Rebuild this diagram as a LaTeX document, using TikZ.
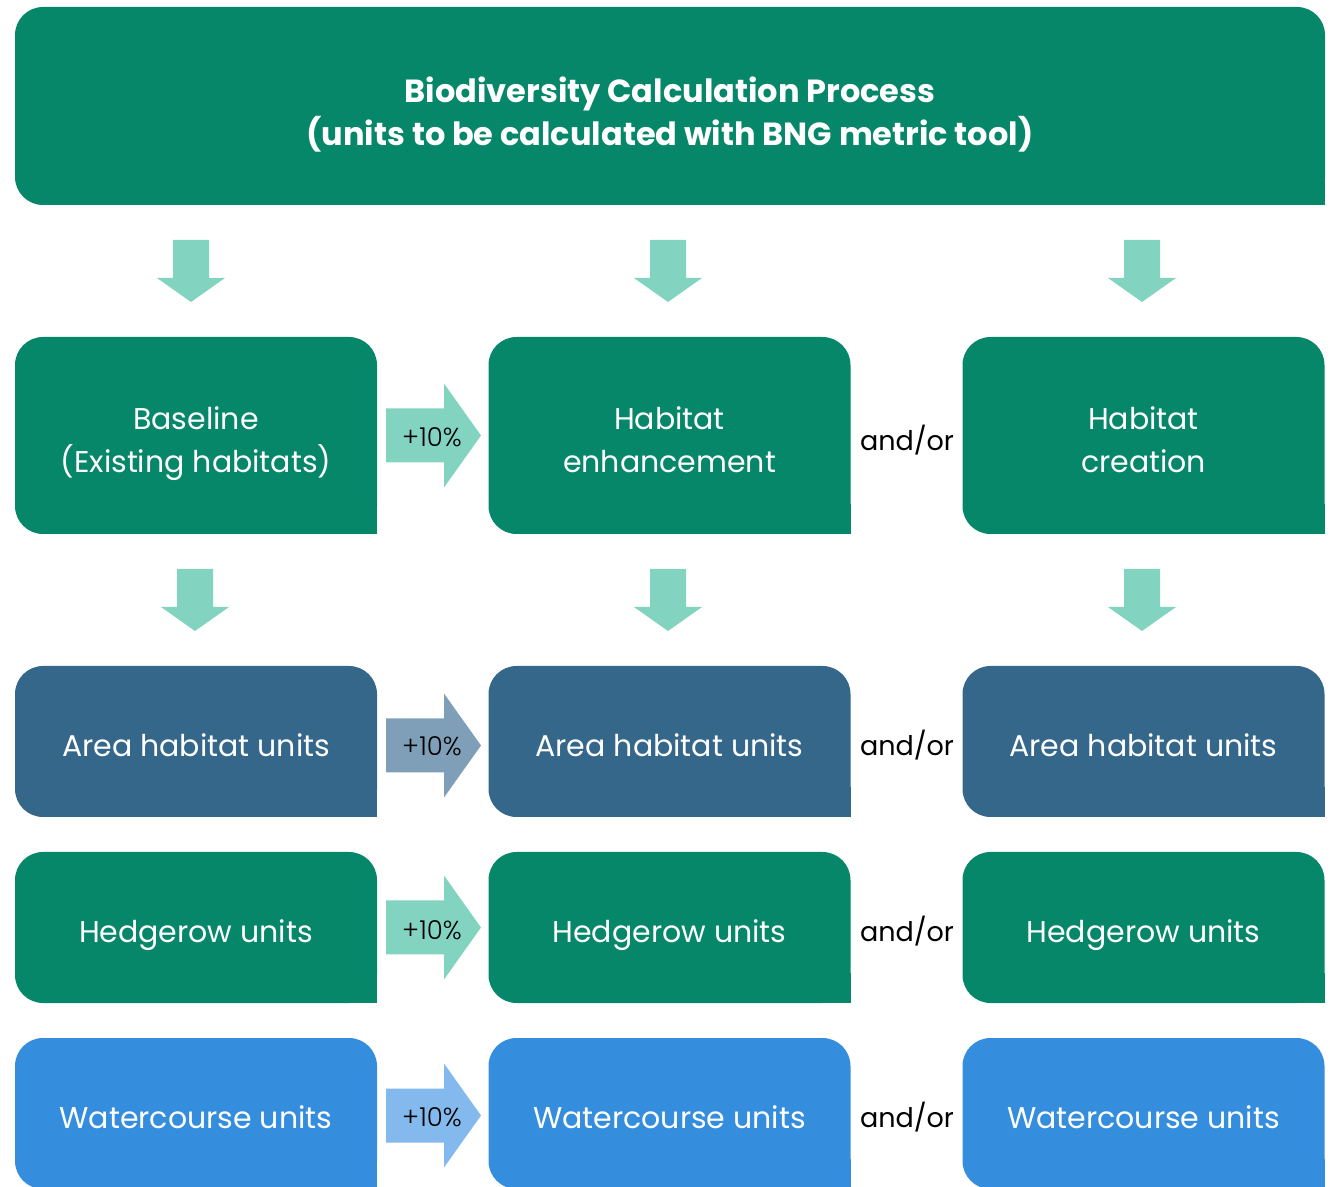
\documentclass[tikz,border=0pt]{standalone}
\usepackage{fontspec}
\setmainfont{Poppins}
\newfontfamily\gainfont{Poppins Light}
\usetikzlibrary{calc}

\definecolor{bnggreen}{HTML}{06876A}
\definecolor{bngmint}{HTML}{82D4C1}
\definecolor{bngnavy}{HTML}{35678A}
\definecolor{bngslate}{HTML}{7F9FB8}
\definecolor{bngblue}{HTML}{358EDD}
\definecolor{bngsky}{HTML}{83B9EC}

\newcommand\firstline{\rule{0pt}{19.5pt}}

\tikzset{
  panel/.style={rounded corners=14pt, text=white, align=center, inner sep=0pt, outer sep=0pt,
    minimum width=181pt, font=\fontsize{15}{21.5}\selectfont,
    execute at begin node={\rule{0pt}{19pt}}, execute at end node={\rule[-4pt]{0pt}{4pt}}},
  tallpanel/.style={panel, minimum height=98.5pt},
  unitpanel/.style={panel, minimum height=75.5pt},
  gainlabel/.style={inner sep=0pt, font=\gainfont\fontsize{13}{15}\selectfont},
  orlabel/.style={inner sep=0pt, font=\fontsize{13.5}{15}\selectfont},
  pics/gainarrow/.style={code={
    \fill (0,-27) -- (58,-27) -- (58,-52) -- (95,0) -- (58,52) -- (58,27) -- (0,27) -- cycle;}},
  pics/downarrow/.style={code={
    \fill (-18,0) -- (18,0) -- (18,38) -- (34,38) -- (0,62) -- (-34,38) -- (-18,38) -- cycle;}},
}

\begin{document}
\begin{tikzpicture}[x=0.5pt, y=-0.5pt]
  \useasboundingbox (0,0) rectangle (1330,1187);

  \node[panel, fill=bnggreen, minimum width=655pt, minimum height=99pt,
        font=\fontsize{16}{21.5}\selectfont\bfseries] (title) at (670,106)
        {\rule{0pt}{22.5pt}Biodiversity Calculation Process\\(units to be calculated with BNG metric tool)};

  \node[tallpanel, fill=bnggreen] (base) at (196,435.5) {\firstline Baseline\\(Existing habitats)};
  \node[tallpanel, fill=bnggreen] (enh) at (669.5,435.5) {\firstline Habitat\\enhancement};
  \node[tallpanel, fill=bnggreen] (cre) at (1143.5,435.5) {\firstline Habitat\\creation};

  \node[unitpanel, fill=bngnavy] (areaA) at (196,741.5) {Area habitat units};
  \node[unitpanel, fill=bngnavy] (areaB) at (669.5,741.5) {Area habitat units};
  \node[unitpanel, fill=bngnavy] (areaC) at (1143.5,741.5) {Area habitat units};

  \node[unitpanel, fill=bnggreen] (hedgeA) at (196,927.5) {Hedgerow units};
  \node[unitpanel, fill=bnggreen] (hedgeB) at (669.5,927.5) {Hedgerow units};
  \node[unitpanel, fill=bnggreen] (hedgeC) at (1143.5,927.5) {Hedgerow units};

  \node[unitpanel, fill=bngblue] (waterA) at (196,1113.5) {Watercourse units};
  \node[unitpanel, fill=bngblue] (waterB) at (669.5,1113.5) {Watercourse units};
  \node[unitpanel, fill=bngblue] (waterC) at (1143.5,1113.5) {Watercourse units};

  % square off the lower right corners
  \foreach \n/\c in {title/bnggreen, base/bnggreen, enh/bnggreen, cre/bnggreen,
      areaA/bngnavy, areaB/bngnavy, areaC/bngnavy,
      hedgeA/bnggreen, hedgeB/bnggreen, hedgeC/bnggreen,
      waterA/bngblue, waterB/bngblue, waterC/bngblue}
    \fill[\c] (\n.south east) rectangle ++(-30,-30);

  \pic[fill=bngmint] at ($(base.north)+(-5,-97)$) {downarrow};
  \pic[fill=bngmint] at ($(enh.north)+(-1.5,-97)$) {downarrow};
  \pic[fill=bngmint] at ($(cre.north)+(-1.5,-97)$) {downarrow};
  \pic[fill=bngmint] at ($(base.south)+(-1,35)$) {downarrow};
  \pic[fill=bngmint] at ($(enh.south)+(-1.5,35)$) {downarrow};
  \pic[fill=bngmint] at ($(cre.south)+(-1.5,35)$) {downarrow};

  \pic[fill=bngmint] at ($(base.east)+(9,0)$) {gainarrow};
  \pic[fill=bngslate] at ($(areaA.east)+(9,4)$) {gainarrow};
  \pic[fill=bngmint] at ($(hedgeA.east)+(9,0)$) {gainarrow};
  \pic[fill=bngsky] at ($(waterA.east)+(9,2)$) {gainarrow};

  \node[gainlabel] (g1) at (432,437) {+10\%};
  \node[gainlabel] (g2) at (432,746) {+10\%};
  \node[gainlabel] (g3) at (432,930) {+10\%};
  \node[gainlabel] (g4) at (432,1117) {+10\%};

  \node[orlabel] (o1) at (907,440) {and/or};
  \node[orlabel] (o2) at (907,745) {and/or};
  \node[orlabel] (o3) at (907,931) {and/or};
  \node[orlabel] (o4) at (907,1117) {and/or};
\end{tikzpicture}
\end{document}
